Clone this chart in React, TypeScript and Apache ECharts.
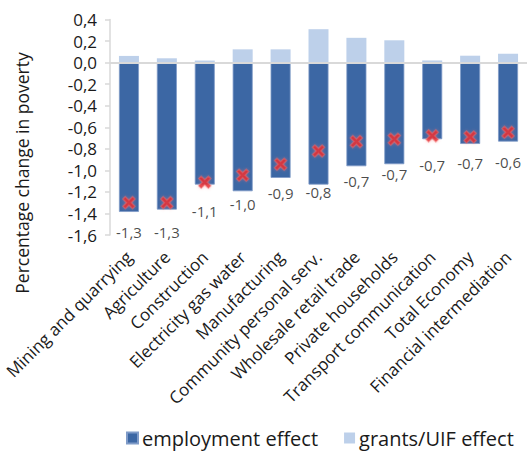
import React, { useEffect, useRef } from "react";
import * as echarts from "echarts";

const categories = [
  "Mining and quarrying",
  "Agriculture",
  "Construction",
  "Electricity gas water",
  "Manufacturing",
  "Community personal serv.",
  "Wholesale retail trade",
  "Private households",
  "Transport communication",
  "Total Economy",
  "Financial intermediation",
];

const employmentEffect = [-1.386, -1.364, -1.132, -1.194, -1.07, -1.132, -0.962, -0.943, -0.711, -0.755, -0.733];
const grantsEffect = [0.062, 0.04, 0.019, 0.123, 0.123, 0.31, 0.23, 0.207, 0.02, 0.064, 0.083];
const netEffect = [-1.3, -1.3, -1.11, -1.045, -0.943, -0.82, -0.733, -0.711, -0.68, -0.69, -0.647];

const yTicks = { min: -1.6, max: 0.4, interval: 0.2 };

const FONT = "'Open Sans', 'Noto Sans', sans-serif";
const TEXT = "#1a1a1a";
const X_PATH = "path://M2,0 L5,3 L8,0 L10,2 L7,5 L10,8 L8,10 L5,7 L2,10 L0,8 L3,5 L0,2 Z";

// extra downward nudge (px) of the net-effect labels, per category
const labelNudge = [0, 0, 0, 0, 0, 12, 10, 6, 0, -3, 0];

const fmt = (v: number) => v.toFixed(1).replace(".", ",");

export default function App() {
  const ref = useRef<HTMLDivElement>(null);
  useEffect(() => {
    if (!ref.current) return;
    const chart = echarts.init(ref.current, undefined, { renderer: "svg" });
    chart.setOption({
      animation: false,
      textStyle: { fontFamily: FONT, color: TEXT },
      grid: { left: 110, right: -5, top: 19.5, bottom: 221, containLabel: false },
      legend: {
        data: ["employment effect", "grants/UIF effect"],
        left: 121,
        bottom: 3,
        itemWidth: 11,
        itemHeight: 11,
        itemGap: 26,
        icon: "rect",
        textStyle: { fontFamily: FONT, fontSize: 20, color: TEXT, padding: [0, 0, 0, -1] },
      },
      graphic: [
        {
          type: "text",
          x: 22,
          y: 173,
          rotation: Math.PI / 2,
          style: {
            text: "Percentage change in poverty",
            font: `17.5px ${FONT}`,
            fill: TEXT,
            textAlign: "center",
            textVerticalAlign: "middle",
          },
        },
      ],
      xAxis: {
        type: "category",
        data: categories,
        position: "bottom",
        axisLine: { show: false, onZero: false },
        axisTick: { show: false },
        axisLabel: {
          rotate: 45,
          interval: 0,
          margin: 19,
          fontSize: 17,
          fontFamily: FONT,
          color: TEXT,
        },
      },
      yAxis: {
        type: "value",
        min: yTicks.min,
        max: yTicks.max,
        interval: yTicks.interval,
        axisLine: { show: true, lineStyle: { color: "#d9d9d9", width: 1.5 } },
        axisTick: { show: true, length: 5, lineStyle: { color: "#d9d9d9", width: 1.5 } },
        splitLine: { show: false },
        axisLabel: {
          margin: 13,
          fontSize: 17,
          fontFamily: FONT,
          color: TEXT,
          formatter: (v: number) => fmt(v),
        },
      },
      series: [
        {
          name: "employment effect",
          type: "bar",
          stack: "total",
          barWidth: 20,
          data: employmentEffect,
          itemStyle: { color: "#3c67a4", borderColor: "#7f9bc8", borderWidth: 0.8 },
          markLine: {
            silent: true,
            symbol: "none",
            label: { show: false },
            lineStyle: { color: "#d9d9d9", width: 2, type: "solid" },
            data: [{ yAxis: 0 }],
          },
        },
        {
          name: "grants/UIF effect",
          type: "bar",
          stack: "total",
          barWidth: 20,
          data: grantsEffect,
          itemStyle: { color: "#bdd0ea" },
        },
        {
          name: "net",
          type: "scatter",
          symbol: X_PATH,
          symbolSize: 12,
          z: 5,
          data: netEffect.map((v, i) => ({
            value: v,
            label: { offset: [0, labelNudge[i]] },
          })),
          itemStyle: {
            color: "#e2262c",
            borderColor: "rgba(240,110,110,0.55)",
            borderWidth: 1.5,
            shadowColor: "rgba(255,110,110,0.6)",
            shadowBlur: 3,
          },
          label: {
            show: true,
            position: "bottom",
            distance: 15,
            fontSize: 15,
            fontFamily: FONT,
            color: TEXT,
            formatter: (p: any) => fmt(p.value),
          },
        },
      ],
    });
    return () => chart.dispose();
  }, []);
  return (
    <div
      ref={ref}
      style={{ position: "absolute", left: 0, top: 0, width: 527, height: 456 }}
    />
  );
}
